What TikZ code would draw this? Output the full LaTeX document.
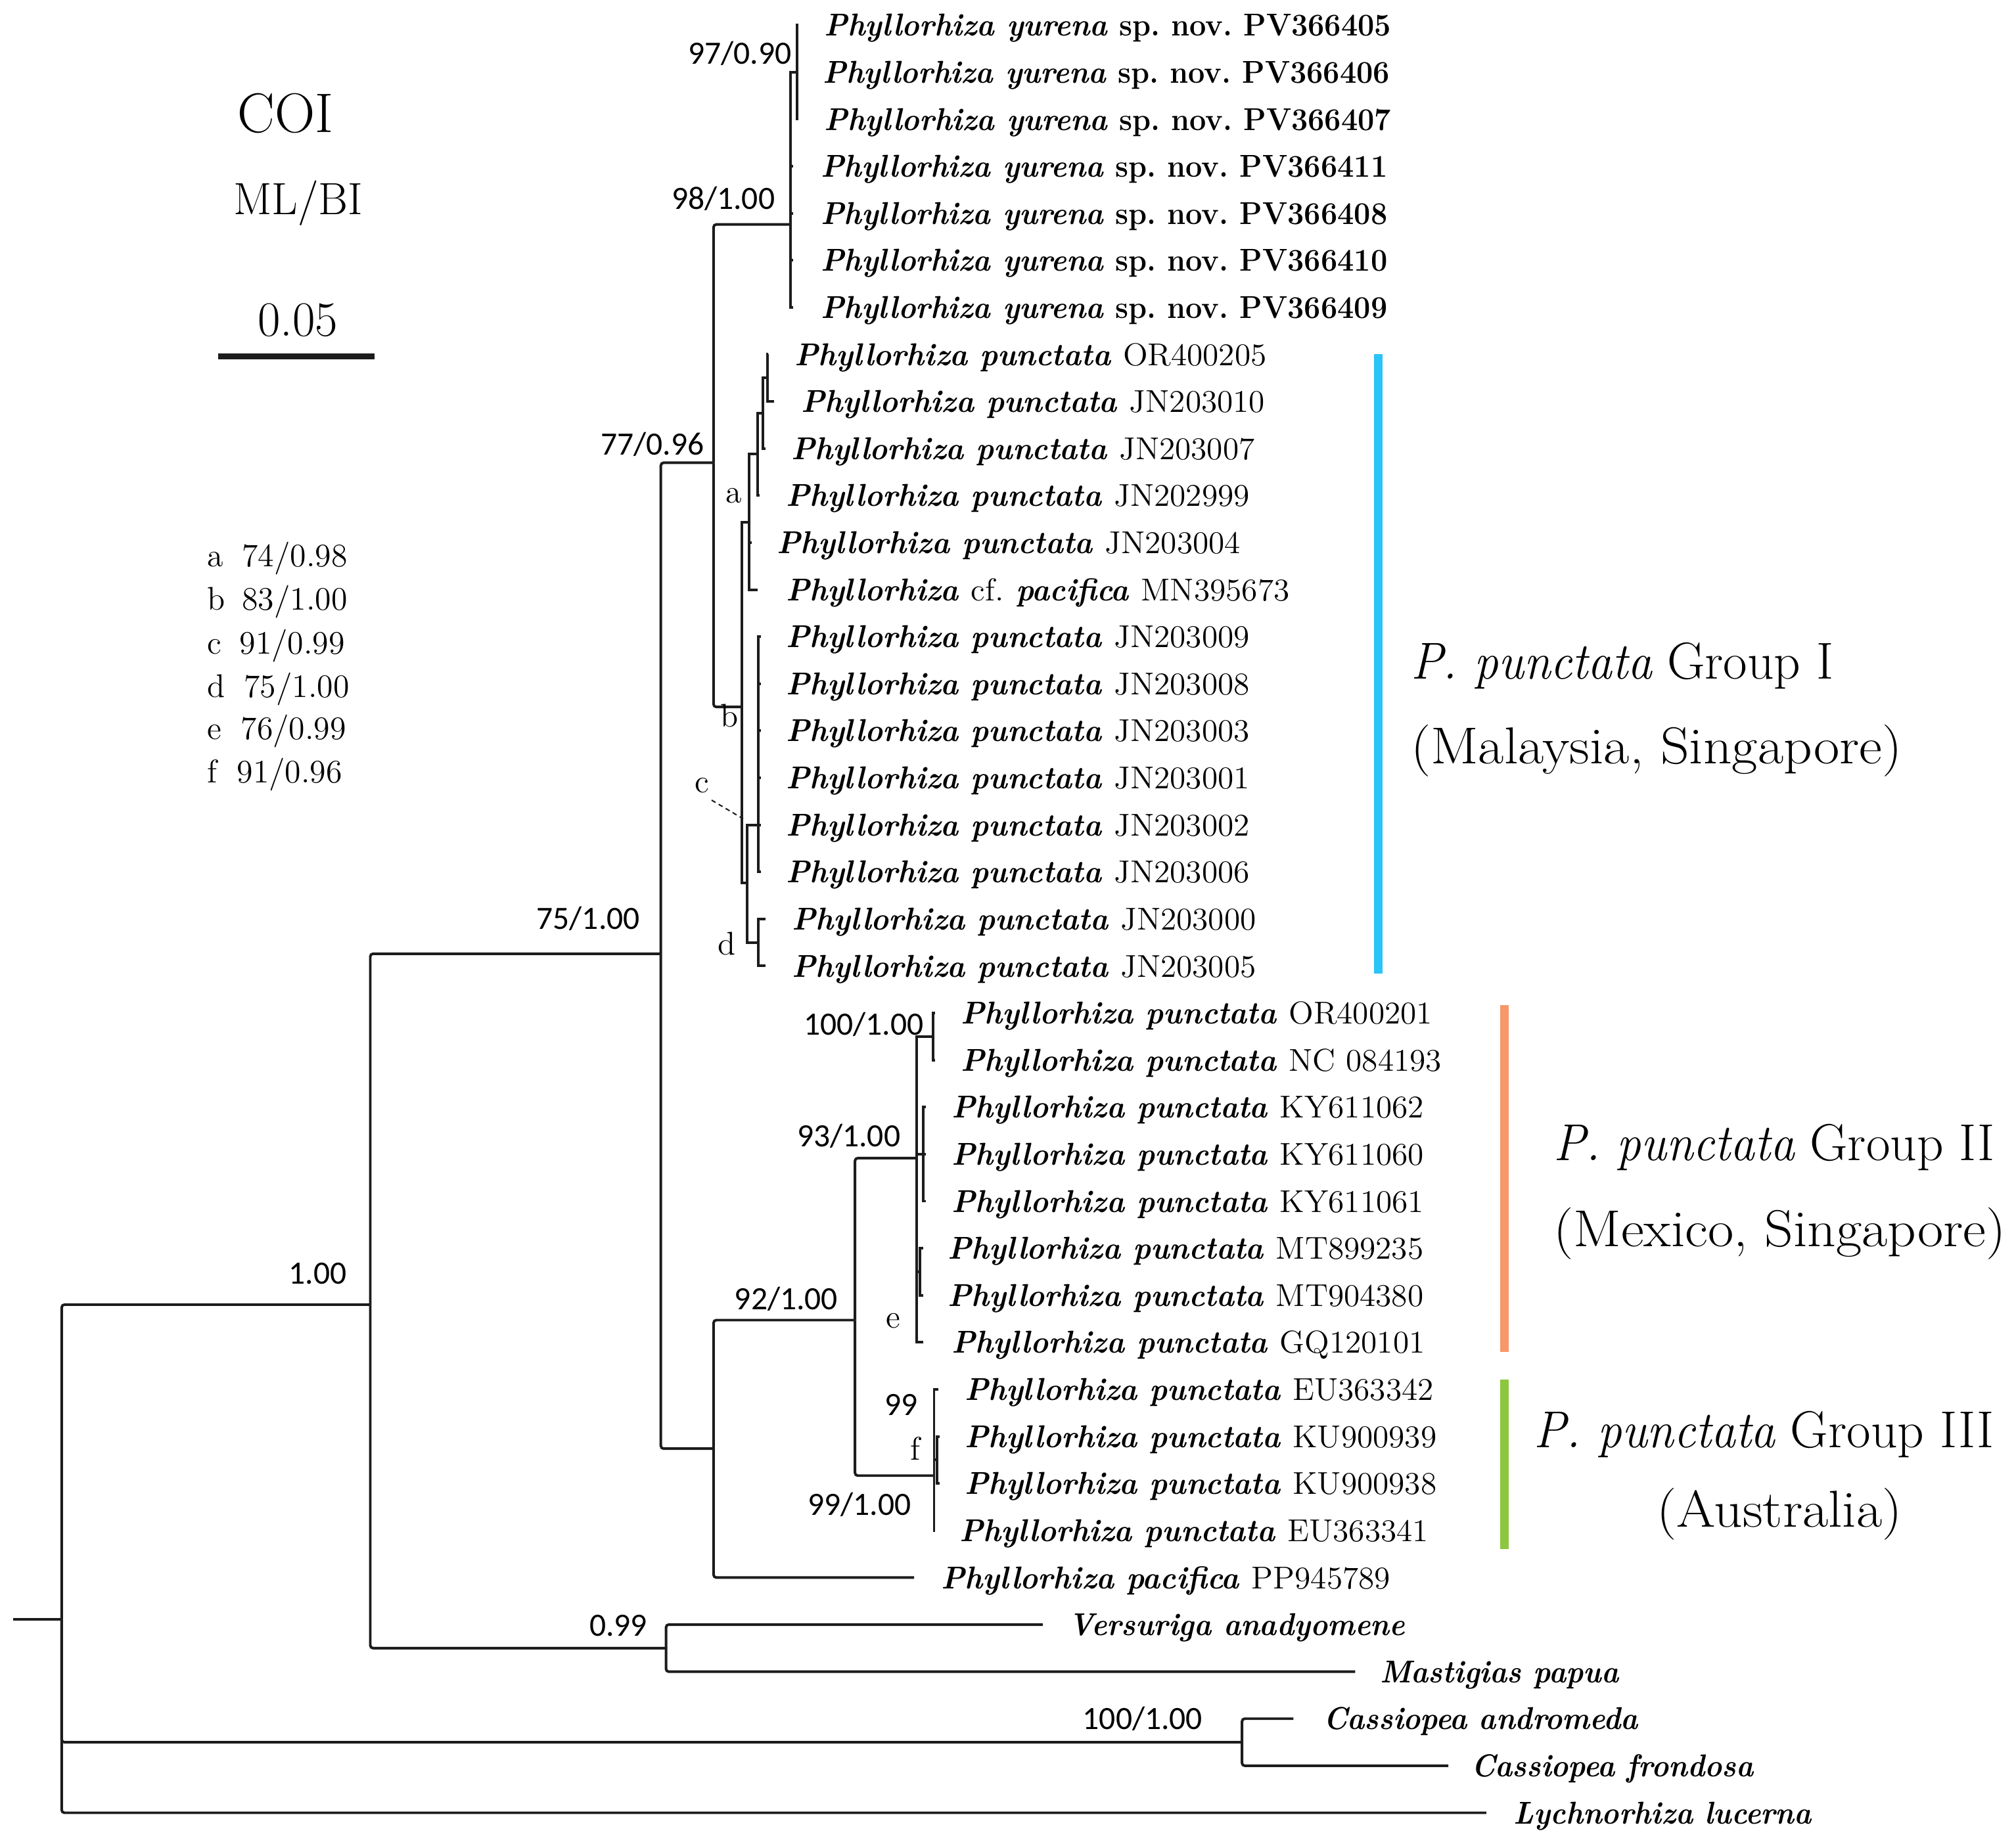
\documentclass[tikz,border=0pt]{standalone}
\usepackage{fontspec}
\usepackage{graphicx}
\newfontfamily\supfont{Carlito}
\definecolor{gIblue}{RGB}{43,196,248}
\definecolor{gIIorange}{RGB}{247,152,106}
\definecolor{gIIIgreen}{RGB}{141,198,63}
\definecolor{treeline}{RGB}{28,28,28}
\frenchspacing
\newcommand\tipsc[1]{\scalebox{0.92}[1]{#1}}
\newcommand\accn[1]{{\normalfont\scalebox{1.08}[1]{#1}}}
\newcommand\yur[1]{\scalebox{0.935}[1]{Phyllorhiza yurena {\upshape sp. nov. PV#1}}}
\newcommand\pun[1]{\scalebox{0.95}[1]{Phyllorhiza punctata \accn{#1}}}
\newcommand\grpw[1]{\scalebox{1.08}[1]{#1}}
\newcommand\grpone[1]{\scalebox{0.93}[1]{\textit{P. punctata} \grpw{#1}}}
\begin{document}
\begin{tikzpicture}[x=0.02cm,y=-0.02cm,
  br/.style={line width=1.15pt,draw=treeline,rounded corners=1.2pt},
  tw/.style={line width=1.15pt,draw=treeline},
  tip/.style={anchor=base west,inner sep=0pt,font=\fontsize{14}{16}\selectfont\bfseries\itshape},
  sup/.style={anchor=base east,inner sep=0pt,font=\fontsize{14.4}{16}\selectfont\supfont},
  ltr/.style={anchor=base,inner sep=0pt,font=\fontsize{14.5}{16}\selectfont},
  leg/.style={anchor=base west,inner sep=0pt,font=\fontsize{14.5}{16}\selectfont},
  grp/.style={anchor=base west,inner sep=0pt,font=\fontsize{23}{26}\selectfont},
  gbar/.style={line width=3.75pt}]
\fill[white] (0,0) rectangle (1568,1434.6);
\useasboundingbox (0,0) rectangle (1568,1434.6);
% ---------- internal nodes ----------
\coordinate (r0) at (10,1260);
\coordinate (R) at (48,1260);
\coordinate (N100) at (288,1015);
\coordinate (NCas) at (966,1355.4);
\coordinate (N099) at (518,1282.2);
\coordinate (N75) at (514,742);
\coordinate (N77) at (555,360);
\coordinate (NB) at (555,1127);
\coordinate (N98) at (615,174.6);
\coordinate (N97) at (620,56.1);
\coordinate (Nb) at (577,550);
\coordinate (Na) at (582.5,406.4);
\coordinate (N11) at (589.5,353.2);
\coordinate (N7) at (593.5,321.5);
\coordinate (N89) at (597,294);
\coordinate (Nc) at (581,687);
\coordinate (NX) at (590,641.7);
\coordinate (Nd) at (590,733.2);
\coordinate (N92) at (665,1027);
\coordinate (N93) at (712.8,901);
\coordinate (N100b) at (725.6,806.4);
\coordinate (NKY) at (718,897.9);
\coordinate (Ne) at (715.5,989.4);
\coordinate (N99) at (726.5,1148);
\coordinate (Nf) at (729,1135.8);
% ---------- tips ----------
\coordinate (T1) at (621,19.5);
\coordinate (T2) at (621,56.1);
\coordinate (T3) at (621,92.7);
\coordinate (T4) at (617,129.3);
\coordinate (T5) at (617,165.9);
\coordinate (T6) at (617,202.5);
\coordinate (T7) at (617,239.1);
\coordinate (T8) at (597.5,275.7);
\coordinate (T9) at (602,312.3);
\coordinate (T10) at (595.5,348.9);
\coordinate (T11) at (591,385.5);
\coordinate (T12) at (584.5,422.1);
\coordinate (T13) at (589.5,458.7);
\coordinate (T14) at (592,495.3);
\coordinate (T15) at (592,531.9);
\coordinate (T16) at (592,568.5);
\coordinate (T17) at (592,605.1);
\coordinate (T18) at (592,641.7);
\coordinate (T19) at (592,678.3);
\coordinate (T20) at (595.5,714.9);
\coordinate (T21) at (595.5,751.5);
\coordinate (T22) at (727.5,788.1);
\coordinate (T23) at (727.5,824.7);
\coordinate (T24) at (720,861.3);
\coordinate (T25) at (720,897.9);
\coordinate (T26) at (720,934.5);
\coordinate (T27) at (718,971.1);
\coordinate (T28) at (718,1007.7);
\coordinate (T29) at (718,1044.3);
\coordinate (T30) at (730,1080.9);
\coordinate (T31) at (731,1117.5);
\coordinate (T32) at (731,1154.1);
\coordinate (T33) at (727.5,1190.7);
\coordinate (T34) at (711,1227.3);
\coordinate (T35) at (811,1263.9);
\coordinate (T36) at (1054,1300.5);
\coordinate (T37) at (1006,1337.1);
\coordinate (T38) at (1126.5,1373.7);
\coordinate (T39) at (1156,1410.3);
% ---------- branches ----------
\draw[tw] (r0) -- (R);
\draw[br] (R) |- (N100);
\draw[br] (R) |- (NCas);
\draw[br] (R) |- (T39);
\draw[br] (N100) |- (N75);
\draw[br] (N100) |- (N099);
\draw[br] (N099) |- (T35);
\draw[br] (N099) |- (T36);
\draw[br] (NCas) |- (T37);
\draw[br] (NCas) |- (T38);
\draw[br] (N75) |- (N77);
\draw[br] (N75) |- (NB);
\draw[br] (N77) |- (N98);
\draw[br] (N77) |- (Nb);
\draw[tw] (N98) |- (N97);
\foreach \t in {T4,T5,T6,T7} \draw[tw] (N98) |- (\t);
\foreach \t in {T1,T2,T3} \draw[tw] (N97) |- (\t);
\draw[tw] (Nb) |- (Na);
\draw[tw] (Nb) |- (Nc);
\draw[tw] (Na) |- (N11);
\draw[tw] (Na) |- (T12);
\draw[tw] (Na) |- (T13);
\draw[tw] (N11) |- (N7);
\draw[tw] (N11) |- (T11);
\draw[tw] (N7) |- (N89);
\draw[tw] (N7) |- (T10);
\draw[tw] (N89) |- (T8);
\draw[tw] (N89) |- (T9);
\draw[tw] (Nc) |- (NX);
\draw[tw] (Nc) |- (Nd);
\foreach \t in {T14,T15,T16,T17,T18,T19} \draw[tw] (NX) |- (\t);
\draw[tw] (Nd) |- (T20);
\draw[tw] (Nd) |- (T21);
\draw[br] (NB) |- (N92);
\draw[br] (NB) |- (T34);
\draw[br] (N92) |- (N93);
\draw[br] (N92) |- (N99);
\draw[tw] (N93) |- (N100b);
\draw[tw] (N93) |- (NKY);
\draw[tw] (N93) |- (Ne);
\draw[tw] (N93) |- (T29);
\draw[tw] (N100b) |- (T22);
\draw[tw] (N100b) |- (T23);
\foreach \t in {T24,T25,T26} \draw[tw] (NKY) |- (\t);
\draw[tw] (Ne) |- (T27);
\draw[tw] (Ne) |- (T28);
\draw[tw] (N99) |- (T30);
\draw[tw] (N99) |- (Nf);
\draw[tw] (N99) |- (T33);
\draw[tw] (Nf) |- (T31);
\draw[tw] (Nf) |- (T32);
% ---------- tip labels ----------
\node[tip] (L1) at (641,28) {\yur{366405}};
\node[tip] (L2) at (640,64.6) {\yur{366406}};
\node[tip] (L3) at (641,101.2) {\yur{366407}};
\node[tip] (L4) at (638,137.8) {\yur{366411}};
\node[tip] (L5) at (638,174.4) {\yur{366408}};
\node[tip] (L6) at (638,211) {\yur{366410}};
\node[tip] (L7) at (638,247.6) {\yur{366409}};
\node[tip] (L8) at (618,284.2) {\pun{OR400205}};
\node[tip] (L9) at (623,320.8) {\pun{JN203010}};
\node[tip] (L10) at (615,357.4) {\pun{JN203007}};
\node[tip] (L11) at (611,394) {\pun{JN202999}};
\node[tip] (L12) at (604,430.6) {\pun{JN203004}};
\node[tip] (L13) at (611,467.2) {\scalebox{0.95}[1]{Phyllorhiza \accn{cf.} pacifica \accn{MN395673}}};
\node[tip] (L14) at (611,503.8) {\pun{JN203009}};
\node[tip] (L15) at (611,540.4) {\pun{JN203008}};
\node[tip] (L16) at (611,577) {\pun{JN203003}};
\node[tip] (L17) at (611,613.6) {\pun{JN203001}};
\node[tip] (L18) at (611,650.2) {\pun{JN203002}};
\node[tip] (L19) at (611,686.8) {\pun{JN203006}};
\node[tip] (L20) at (616,723.4) {\pun{JN203000}};
\node[tip] (L21) at (616,760) {\pun{JN203005}};
\node[tip] (L22) at (747,796.6) {\pun{OR400201}};
\node[tip] (L23) at (747,833.2) {\pun{NC 084193}};
\node[tip] (L24) at (740,869.8) {\pun{KY611062}};
\node[tip] (L25) at (740,906.4) {\pun{KY611060}};
\node[tip] (L26) at (740,943) {\pun{KY611061}};
\node[tip] (L27) at (737,979.6) {\pun{MT899235}};
\node[tip] (L28) at (737,1016.2) {\pun{MT904380}};
\node[tip] (L29) at (740,1052.8) {\pun{GQ120101}};
\node[tip] (L30) at (750,1089.4) {\pun{EU363342}};
\node[tip] (L31) at (750,1126) {\pun{KU900939}};
\node[tip] (L32) at (750,1162.6) {\pun{KU900938}};
\node[tip] (L33) at (746,1199.2) {\pun{EU363341}};
\node[tip] (L34) at (732,1235.8) {\scalebox{0.95}[1]{Phyllorhiza pacifica \accn{PP945789}}};
\node[tip] (L35) at (831,1272.4) {\tipsc{Versuriga anadyomene}};
\node[tip] (L36) at (1073,1309) {\tipsc{Mastigias papua}};
\node[tip] (L37) at (1029,1345.6) {\tipsc{Cassiopea andromeda}};
\node[tip] (L38) at (1144,1382.2) {\tipsc{Cassiopea frondosa}};
\node[tip] (L39) at (1177,1418.8) {\tipsc{Lychnorhiza lucerna}};
% ---------- support values ----------
\node[sup] (S97) at (616,50) {97/0.90};
\node[sup] (S98) at (603,162.6) {98/1.00};
\node[sup] (S77) at (548,354) {77/0.96};
\node[sup] (S75) at (498,723) {75/1.00};
\node[sup] (S1) at (270,999) {1.00};
\node[sup] (S099) at (503.7,1273) {0.99};
\node[sup] (SCas) at (935.6,1345.6) {100/1.00};
\node[sup] (S100) at (718.6,805) {100/1.00};
\node[sup] (S93) at (700.6,892) {93/1.00};
\node[sup] (S92) at (652,1019) {92/1.00};
\node[sup] (S99a) at (714,1101) {99};
\node[sup] (S99b) at (709,1179) {99/1.00};
% ---------- node letters ----------
\node[ltr] (la) at (570.5,391) {a};
\node[ltr] (lb) at (567.5,565.5) {b};
\node[ltr] (lc) at (546,616.6) {c};
\node[ltr] (ld) at (565.5,742.6) {d};
\node[ltr] (le) at (694.5,1033) {e};
\node[ltr] (lf) at (712,1136) {f};
\coordinate (cst) at (553.5,622.5);
\coordinate (cpt) at (578,637);
\draw[line width=0.6pt,dash pattern=on 2pt off 1.6pt,treeline] (cst) -- (cpt);
% ---------- title and scale ----------
\node[anchor=base,inner sep=0pt,font=\fontsize{24.7}{28}\selectfont] (ttl) at (222,103) {COI};
\node[anchor=base,inner sep=0pt,font=\fontsize{20}{24}\selectfont] (meth) at (232,167) {ML/BI};
\node[anchor=base,inner sep=0pt,font=\fontsize{21.8}{24}\selectfont] (scl) at (231.6,261.5) {0.05};
\coordinate (sb1) at (169.5,277.3);
\coordinate (sb2) at (291.3,277.3);
\draw[line width=2.4pt,treeline] (sb1) -- (sb2);
% ---------- legend ----------
\node[leg] (ka) at (161,441) {a};  \node[leg] (va) at (188,441) {74/0.98};
\node[leg] (kb) at (161,474.4) {b}; \node[leg] (vb) at (188,474.4) {83/1.00};
\node[leg] (kc) at (161,509) {c};  \node[leg] (vc) at (186,509) {91/0.99};
\node[leg] (kd) at (161,542.5) {d}; \node[leg] (vd) at (189.5,542.5) {75/1.00};
\node[leg] (ke) at (161,575) {e};  \node[leg] (ve) at (187,575) {76/0.99};
\node[leg] (kf) at (161,609) {f};  \node[leg] (vf) at (184,609) {91/0.96};
% ---------- group bars ----------
\coordinate (b1t) at (1072,275.5); \coordinate (b1b) at (1072,757.5);
\coordinate (b2t) at (1170,782); \coordinate (b2b) at (1170,1052);
\coordinate (b3t) at (1170,1073); \coordinate (b3b) at (1170,1205);
\draw[gbar,gIblue] (b1t) -- (b1b);
\draw[gbar,gIIorange] (b2t) -- (b2b);
\draw[gbar,gIIIgreen] (b3t) -- (b3b);
\node[grp] (g1a) at (1097,528) {\grpone{Group I}};
\node[grp] (g1b) at (1097,594) {\grpw{(Malaysia, Singapore)}};
\node[grp] (g2a) at (1208,903) {\grpone{Group II}};
\node[grp] (g2b) at (1208,970) {\grpw{(Mexico, Singapore)}};
\node[grp] (g3a) at (1193,1126) {\grpone{Group III}};
\node[grp,anchor=base] (g3b) at (1384,1188) {\grpw{(Australia)}};
\end{tikzpicture}
\end{document}
